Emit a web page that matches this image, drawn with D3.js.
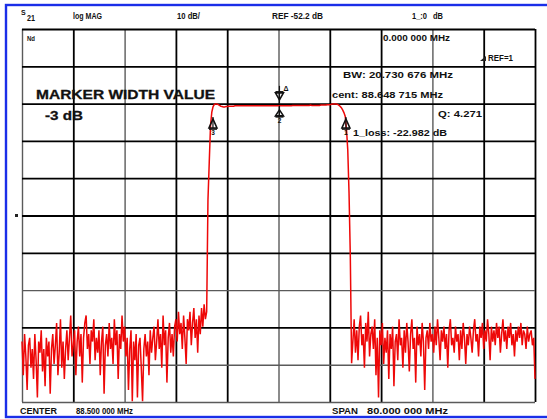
<!DOCTYPE html>
<html><head><meta charset="utf-8">
<script src="https://cdn.jsdelivr.net/npm/d3@7"></script>
<style>
html,body{margin:0;padding:0;background:#fff;}
svg{display:block;}
text{font-family:"Liberation Sans",Arial,sans-serif;font-weight:bold;fill:#111;}
</style></head><body>
<script>
// ---- sweep settings ----
const sweepStartMHz = 48.5, sweepStopMHz = 128.5, sweepPoints = 401;
const refLevelDb = -52.2, dbPerDiv = 10;
const xTickMHz = [48.5, 56.5, 64.5, 72.5, 80.5, 88.5, 96.5, 104.5, 112.5, 120.5, 128.5];
const yTickDb = [-2.2, -12.2, -22.2, -32.2, -42.2, -52.2, -62.2, -72.2, -82.2, -92.2, -102.2];

// ---- trace values (dB) ----
const lowerStopbandDb = [
 -86,-95,-84,-90,-99,-87,-85,-93,-88,-96,
 -84,-91,-101,-86,-89,-83,-94,-88,-98,-85,
 -90,-86,-100,-88,-84,-92,-87,-81,-95,-89,
 -80,-93,-86,-96,-88,-83,-91,-85,-79,-90,
 -87,-83,-95,-86,-82,-90,-84,-97,-85,-81,
 -79,-88,-84,-92,-83,-86,-80,-91,-85,-89,
 -83,-95,-86,-82,-100,-87,-84,-90,-81,-88,
 -85,-92,-80,-87,-83,-96,-84,-88,-79,-86,
 -82,-90,-85,-99,-88,-83,-102,-86,-91,-84,
 -101,-87,-85,-93,-102,-88,-84,-90,-86,-95,
 -83,-89,-85,-82,-91,-86,-80,-88,-84,-93,
 -79,-87,-83,-97,-85,-81,-89,-84,-90,-82,
 -80,-86,-78,-84,-81,-88,-79,-85,-92,-80,
 -83,-78,-87,-81,-77,-85,-80,-89,-79,-84,
 -77,-82,-76,-80,-78
];
const passbandDb = [
 -48,-38,-28,-24.5,-23.0,-22.4,
 -22.3,-22.3,-22.5,-22.7,-22.9,-23.0,-23.1,-23.1,-23.0,-23.0,
 -22.9,-22.9,-22.9,-22.9,-22.9,-22.8,-22.8,-22.8,-22.8,-22.8,
 -22.8,-22.8,-22.8,-22.8,-22.8,-22.8,-22.8,-22.8,-22.8,-22.8,
 -22.8,-22.8,-22.8,-22.8,-22.8,-22.8,-22.8,-22.8,-22.8,-22.8,
 -22.8,-22.8,-22.8,-22.8,-22.8,-22.8,-22.8,-22.8,-22.8,-22.8,
 -22.8,-22.8,-22.8,-22.8,-22.8,-22.8,-22.8,-22.8,-22.8,-22.8,
 -22.7,-22.7,-22.7,-22.7,-22.7,-22.7,-22.7,-22.7,-22.7,-22.7,
 -22.7,-22.7,-22.7,-22.7,-22.6,-22.7,-22.7,-22.7,-22.7,-22.7,
 -22.7,-22.7,-22.6,-22.6,-22.6,-22.6,-22.6,-22.5,-22.5,-22.5,
 -22.4,-22.3,-22.3,-22.3,-22.3,-22.4,-22.6,-22.9,-23.3,-23.9,
 -24.6,-25.6,-29,-34.6,-46.2,-63.3,-91.8
];
const upperStopbandDb = [
 -86,-80,-89,-83,-91,-82,-79,-87,-84,-93,
 -81,-86,-78,-90,-84,-82,-88,-80,-95,-85,
 -101,-83,-87,-81,-92,-85,-89,-83,-96,-84,
 -88,-82,-98,-86,-84,-91,-80,-87,-85,-93,
 -83,-89,-81,-86,-94,-84,-80,-88,-85,-97,
 -82,-87,-84,-90,-81,-86,-99,-85,-83,-88,
 -81,-86,-84,-89,-82,-87,-80,-85,-91,-83,
 -86,-82,-88,-84,-93,-83,-80,-87,-85,-89,
 -82,-86,-84,-91,-83,-88,-81,-85,-92,-84,
 -87,-82,-85,-89,-83,-80,-86,-84,-90,-82,
 -85,-81,-88,-83,-86,-80,-84,-91,-82,-86,
 -83,-87,-81,-85,-82,-89,-84,-80,-86,-83,
 -88,-82,-85,-81,-87,-84,-90,-83,-86,-82,
 -85,-81,-87,-83,-84,-88,-82,-86,-84,-83,
 -87,-85,-96
];

// ---- markers ----
const markerIds = ["3", "2", "1"];
const markerMHz = [78.28, 88.65, 99.01];
const markerDb = [-25.8, -22.8, -25.8];
const refMarkerMHz = 88.65, refMarkerDb = -22.8;

// ---- layout ----
const W = 547, H = 419;
const svg = d3.select("body").append("svg").attr("width", W).attr("height", H);

const x = d3.scaleLinear().domain([sweepStartMHz, sweepStopMHz]).range([22, 535]);
const y = d3.scaleLinear().domain([refLevelDb - 5 * dbPerDiv, refLevelDb + 5 * dbPerDiv]).range([402, 29]);

// outer blue frame
svg.append("rect").attr("x", 6).attr("y", 5).attr("width", 550).attr("height", 412)
  .attr("fill", "none").attr("stroke", "#1a2ee8").attr("stroke-width", 2.4);

// grid via axes
const thinV = new Set([0, 2, 5, 8]);
const thinH = new Set([7, 9, 10]);
const gx = svg.append("g").attr("transform", "translate(0,402)")
  .call(d3.axisBottom(x).tickValues(xTickMHz).tickSize(-373).tickFormat(""));
gx.select(".domain").remove();
gx.selectAll(".tick line").attr("stroke", (d, i) => thinV.has(i) ? "#5a5a5a" : "#000")
  .attr("stroke-width", (d, i) => thinV.has(i) ? 1.4 : 1.8);
const gy = svg.append("g").attr("transform", "translate(22,0)")
  .call(d3.axisLeft(y).tickValues(yTickDb).tickSize(-513).tickFormat(""));
gy.select(".domain").remove();
gy.selectAll(".tick line").attr("stroke", (d) => {
    const i = yTickDb.indexOf(d); return thinH.has(i) ? "#5a5a5a" : "#000"; })
  .attr("stroke-width", (d) => thinH.has(yTickDb.indexOf(d)) ? 1.4 : 1.8);

// reference position marker on the left
svg.append("rect").attr("x", 15).attr("y", y(refLevelDb) - 1.5).attr("width", 3).attr("height", 3).attr("fill", "#222");

// trace
const s21 = lowerStopbandDb.concat(passbandDb, upperStopbandDb);
const stepMHz = (sweepStopMHz - sweepStartMHz) / (sweepPoints - 1);
const trace = s21.map((v, i) => [sweepStartMHz + i * stepMHz, v]);
svg.append("path").datum(trace)
  .attr("d", d3.line().x(d => x(d[0])).y(d => y(d[1])))
  .attr("fill", "none").attr("stroke", "#ee0808").attr("stroke-width", 1.5);

// markers
function tri(cx, tipY, h, w, up) {
  return up ? `M${cx},${tipY}L${cx - w / 2},${tipY + h}L${cx + w / 2},${tipY + h}Z`
            : `M${cx},${tipY}L${cx - w / 2},${tipY - h}L${cx + w / 2},${tipY - h}Z`;
}
markerIds.forEach((id, k) => {
  const cx = x(markerMHz[k]), cy = y(markerDb[k]);
  const big = id !== "2";
  const top = cy + (big ? 2 : 4);
  const h = big ? 9 : 6;
  svg.append("line").attr("x1", cx).attr("x2", cx).attr("y1", cy).attr("y2", top + h)
    .attr("stroke", "#111").attr("stroke-width", 1.2);
  svg.append("path").attr("d", tri(cx, top, h, 8, true)).attr("fill", "none").attr("stroke", "#111").attr("stroke-width", 1.6);
  svg.append("line").attr("x1", cx - 4).attr("x2", cx + 4).attr("y1", top + h + 1).attr("y2", top + h + 1).attr("stroke", "#111").attr("stroke-width", 1.6);
  svg.append("text").attr("x", cx).attr("y", top + h + 7).attr("text-anchor", "middle").attr("font-size", 6.5).text(id);
});
{
  const cx = x(refMarkerMHz), cy = y(refMarkerDb);
  svg.append("line").attr("x1", cx).attr("x2", cx).attr("y1", cy - 20).attr("y2", cy - 2).attr("stroke", "#111").attr("stroke-width", 1.2);
  svg.append("path").attr("d", tri(cx, cy - 6, 7, 8, false)).attr("fill", "none").attr("stroke", "#111").attr("stroke-width", 1.6);
  svg.append("line").attr("x1", cx - 4).attr("x2", cx + 4).attr("y1", cy - 14).attr("y2", cy - 14).attr("stroke", "#111").attr("stroke-width", 1.6);
  svg.append("text").attr("x", cx + 4).attr("y", cy - 15).attr("font-size", 7).text("Δ");
}

// texts
function label(t, xx, yy, size, len) {
  const el = svg.append("text").attr("x", xx).attr("y", yy).attr("font-size", size).text(t);
  if (len) el.attr("textLength", len).attr("lengthAdjust", "spacingAndGlyphs");
  return el;
}
// header row
label("S", 21, 15, 7);
label("21", 27, 21, 9, 8);
label("log MAG", 73, 19, 9, 29);
label("10 dB/", 177, 19, 9, 23);
label("REF -52.2 dB", 272, 19, 9, 51);
label("1_:0", 412, 19, 9, 15);
label("dB", 433, 19, 9, 10);
// inside grid
label("Nd", 27, 41, 7.5, 8);
label("0.000 000 MHz", 383, 41, 9, 67);
svg.append("path").attr("d", "M480,61 L486,56 L486,61 Z").attr("fill", "#222");
label("REF=1", 488, 61, 9, 25);
label("BW:  20.730 676 MHz", 343, 78, 9, 110);
label("cent:  88.648 715 MHz", 332, 98, 9, 111);
label("Q: 4.271", 438, 117, 9, 44);
label("1_loss: -22.982 dB", 353, 136, 9, 94);
svg.append("text").attr("x", 36).attr("y", 98.5).attr("font-size", 12.5).attr("font-weight", "normal")
  .attr("stroke", "#111").attr("stroke-width", 0.3)
  .attr("textLength", 179).attr("lengthAdjust", "spacingAndGlyphs").text("MARKER WIDTH VALUE");
svg.append("text").attr("x", 45).attr("y", 119.5).attr("font-size", 12.5).attr("font-weight", "normal")
  .attr("stroke", "#111").attr("stroke-width", 0.3)
  .attr("textLength", 38).attr("lengthAdjust", "spacingAndGlyphs").text("-3 dB");
// footer
label("CENTER", 20, 414, 9, 37);
label("88.500 000 MHz", 76, 414, 9, 57);
label("SPAN", 332, 414, 9, 26);
label("80.000 000 MHz", 367, 414, 9, 81);
</script>
</body></html>
